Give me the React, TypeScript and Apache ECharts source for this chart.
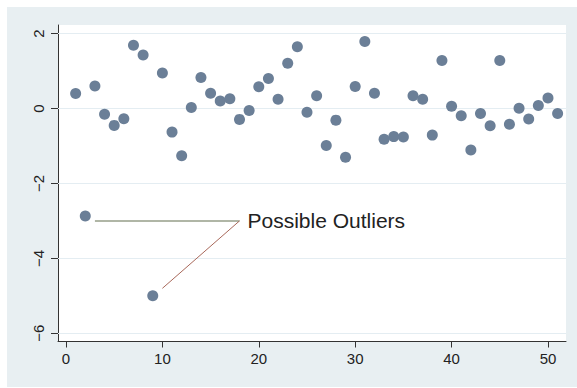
import React, { useEffect, useRef } from "react";
import * as echarts from "echarts";

const obs = [1, 2, 3, 4, 5, 6, 7, 8, 9, 10, 11, 12, 13, 14, 15, 16, 17, 18, 19, 20, 21, 22, 23, 24, 25, 26, 27, 28, 29, 30, 31, 32, 33, 34, 35, 36, 37, 38, 39, 40, 41, 42, 43, 44, 45, 46, 47, 48, 49, 50, 51];
const residuals = [
  0.40, -2.87, 0.60, -0.15, -0.45, -0.27, 1.69, 1.43, -5.0, 0.95,
  -0.63, -1.26, 0.03, 0.83, 0.41, 0.20, 0.26, -0.29, -0.05, 0.58,
  0.80, 0.25, 1.21, 1.65, -0.10, 0.34, -0.99, -0.31, -1.30, 0.59,
  1.79, 0.41, -0.82, -0.75, -0.76, 0.34, 0.25, -0.71, 1.28, 0.06,
  -0.19, -1.11, -0.13, -0.46, 1.28, -0.42, 0.01, -0.28, 0.08, 0.28,
  -0.13,
];
const xTicks = [0, 10, 20, 30, 40, 50];
const yTicks = [-6, -4, -2, 0, 2];
const annotationText = "Possible Outliers";
const annotationAnchor = [18, -3.0];
const pointerFrom = [3, -3.0];
const pointerFrom2 = [10, -4.8];

export default function App() {
  const ref = useRef<HTMLDivElement>(null);
  useEffect(() => {
    if (!ref.current) return;
    const chart = echarts.init(ref.current, null, { renderer: "svg" });
    const font = "'Liberation Sans', Arial, sans-serif";
    chart.setOption({
      animation: false,
      backgroundColor: "#ffffff",
      graphic: [
        {
          type: "rect",
          z: -10,
          silent: true,
          shape: { x: 7, y: 7, width: 570, height: 380 },
          style: { fill: "#e8eff2" },
        },
        {
          type: "rect",
          z: -9,
          silent: true,
          shape: { x: 58, y: 25, width: 508, height: 316.5 },
          style: { fill: "#ffffff" },
        },
      ],
      grid: { left: 58, top: 25, width: 508, height: 316.5, containLabel: false },
      xAxis: {
        type: "value",
        min: -0.83,
        max: 51.87,
        axisLine: { show: true, onZero: false, lineStyle: { color: "#333", width: 1 } },
        axisTick: { show: true, customValues: xTicks, length: 6, lineStyle: { color: "#333" } },
        axisLabel: {
          customValues: xTicks,
          fontSize: 15,
          color: "#222",
          fontFamily: font,
          margin: 9,
        },
        splitLine: { show: false },
      },
      yAxis: {
        type: "value",
        min: -6.22,
        max: 2.23,
        axisLine: { show: true, onZero: false, lineStyle: { color: "#333", width: 1 } },
        axisTick: { show: true, customValues: yTicks, length: 7, lineStyle: { color: "#333" } },
        axisLabel: {
          customValues: yTicks,
          rotate: 90,
          fontSize: 15,
          color: "#222",
          fontFamily: font,
          margin: 12,
          formatter: (v: number) => (v < 0 ? "\u2212" + Math.abs(v) : String(v)),
        },
        splitLine: { show: false },
      },
      series: [
        {
          type: "scatter",
          data: [],
          silent: true,
          markLine: {
            z: 1,
            silent: true,
            symbol: "none",
            label: { show: false },
            lineStyle: { color: "#e4edf2", width: 1, type: "solid" },
            data: yTicks.map((t) => ({ yAxis: t })),
          },
        },
        {
          type: "scatter",
          z: 3,
          symbol: "circle",
          symbolSize: 11,
          itemStyle: { color: "#6b7f97", opacity: 1 },
          data: obs.map((x, i) => [x, residuals[i]]),
          markLine: {
            z: 2,
            silent: true,
            symbol: "none",
            label: { show: false },
            data: [
              [
                { coord: pointerFrom, lineStyle: { color: "#969e88", width: 1.6, type: "solid" } },
                { coord: annotationAnchor },
              ],
              [
                { coord: pointerFrom2, lineStyle: { color: "#a8685a", width: 1, type: "solid" } },
                { coord: annotationAnchor },
              ],
            ],
          },
          markPoint: {
            silent: true,
            symbol: "circle",
            symbolSize: 0,
            itemStyle: { color: "transparent" },
            label: {
              show: true,
              position: "right",
              distance: 8,
              formatter: annotationText,
              fontSize: 21,
              color: "#222",
              fontFamily: font,
            },
            data: [{ coord: annotationAnchor }],
          },
        },
      ],
    });
    return () => chart.dispose();
  }, []);
  return (
    <div
      ref={ref}
      style={{ position: "absolute", left: 0, top: 0, width: 577, height: 388 }}
    />
  );
}
